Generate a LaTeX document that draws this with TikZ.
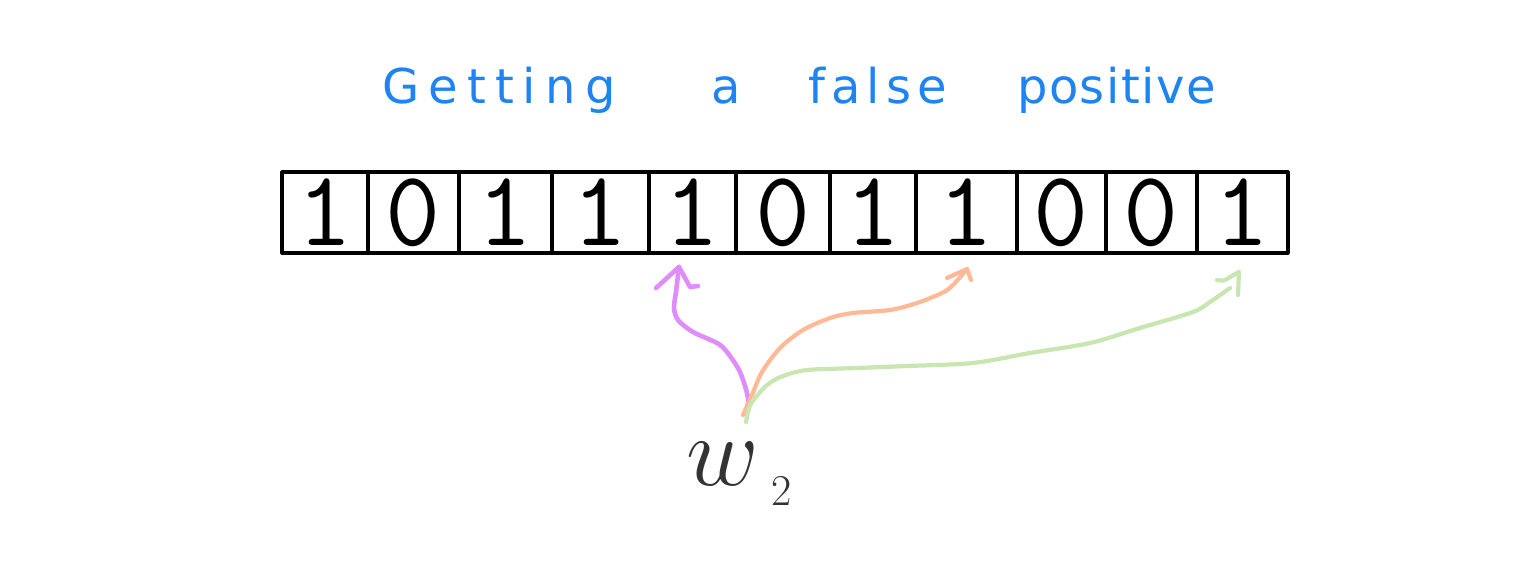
\RequirePackage{fix-cm}
\documentclass[tikz,border=0pt]{standalone}
\usepackage{fontspec}
\newfontfamily\titlefont{DejaVu Sans}
\definecolor{ttl}{RGB}{31,132,242}
\definecolor{wcol}{RGB}{51,51,51}
\definecolor{colP}{RGB}{224,140,250}
\definecolor{colO}{RGB}{255,185,150}
\definecolor{colG}{RGB}{200,230,175}
\begin{document}
\begin{tikzpicture}[x=1pt,y=-1pt,line cap=round,line join=round,
  cell/.style={draw=black,line width=3.2pt,minimum height=81pt,inner sep=0pt,
    font=\ttfamily\fontsize{107}{107}\selectfont,text=black},
  word/.style={anchor=base west,inner sep=0pt,text=ttl},
  hand/.style={line width=4.2pt}]
\useasboundingbox (0,0) rectangle (1536,568);

% title
\node[word,font=\titlefont\fontsize{48}{48}\selectfont\addfontfeature{LetterSpace=19}] (t1) at (382,103) {Getting};
\node[word,font=\titlefont\fontsize{48}{48}\selectfont] (t2) at (711,103) {a};
\node[word,font=\titlefont\fontsize{48}{48}\selectfont\addfontfeature{LetterSpace=13}] (t3) at (808,103) {false};
\node[word,font=\titlefont\fontsize{48}{48}\selectfont\addfontfeature{LetterSpace=3}] (t4) at (1017,103) {positive};

% bit array
\foreach \l/\r/\d [count=\i] in {282/368/1,368/459/0,459/552/1,552/649/1,649/736/1,
  736/830/0,830/916/1,916/1017/1,1017/1106/0,1106/1197/0,1197/1288/1}
  \node[cell,minimum width=\r-\l] (c\i) at ({(\l+\r)/2},212.5) {\d};

% label
\node[anchor=base west,inner sep=0pt,text=wcol,font=\fontsize{100}{100}\selectfont] (w2) at (686,485) {$w$\hspace{13pt}\raisebox{-20pt}{\fontsize{44}{44}\selectfont 2}};

% arrows
\coordinate (srcP) at (746,414);
\coordinate (srcO) at (743,415);
\coordinate (srcG) at (746,422);
\coordinate (tipP) at (679,267);
\coordinate (tipO) at (967,269);
\coordinate (tipG) at (1239,272);

\draw[hand,colP,line width=4.6pt] plot[smooth] coordinates {(srcP) (748,398) (740,372) (727,352) (717,343) (693,332) (678,320) (674,308) (676,292) (678,275) (tipP)};
\draw[hand,colP,line width=4.6pt] (tipP) -- (656,288) (tipP) -- (690,287) -- (698,286);

\draw[hand,colO] plot[smooth] coordinates {(srcO) (752,395) (762,372) (780,348) (803,330) (830,318) (853,313) (890,310) (917,303) (942,293) (953,285) (tipO)};
\draw[hand,colO] (tipO) -- (947,278) (tipO) -- (971,280);

\draw[hand,colG] plot[smooth] coordinates {(srcG) (748,412) (752,402) (767,385) (783,376) (807,370) (857,368) (907,366) (973,363) (1030,353) (1090,343) (1140,328) (1193,312) (1210,302) (1230,288)};
\draw[hand,colG] (1217,280) .. controls (1224,281) .. (1230,277) -- (tipG) -- (1238,295);
\end{tikzpicture}
\end{document}
